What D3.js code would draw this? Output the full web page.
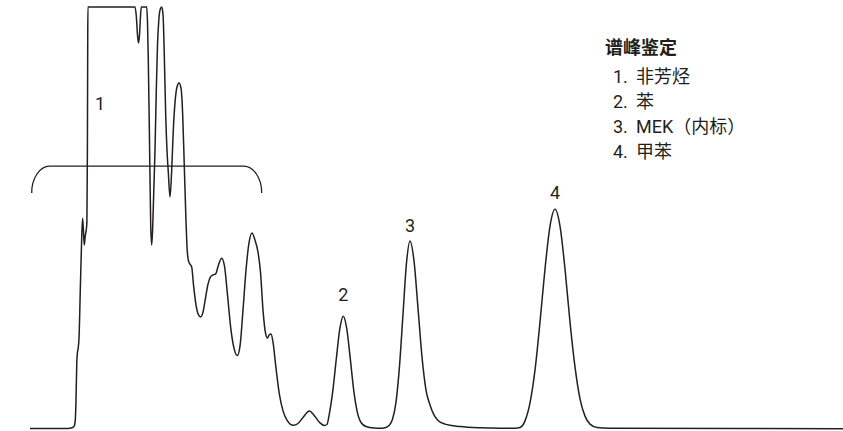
<!DOCTYPE html>
<html><head><meta charset="utf-8">
<script src="https://cdn.jsdelivr.net/npm/d3@7"></script>
<style>html,body{margin:0;padding:0;background:#fff;} svg{display:block}</style>
</head><body>
<svg id="chart" width="843" height="431"></svg>
<script>
// Retention time (min) and detector signal (% of full scale)
const retentionTime = [
  0, 0.4, 0.76, 0.84, 0.88, 0.906, 0.92, 0.936, 0.95, 0.964, 0.98, 1.006, 1.034, 1.052, 1.068, 1.086, 1.104, 1.122, 1.138, 1.148, 1.154, 1.158,
  2.1, 2.126, 2.15, 2.17, 2.19, 2.21, 2.226, 2.334, 2.35, 2.366, 2.39, 2.414, 2.434, 2.452, 2.476, 2.5, 2.526, 2.55, 2.576, 2.606, 2.634,
  2.66, 2.686, 2.714, 2.74, 2.766, 2.8, 2.832, 2.866, 2.904, 2.94, 2.98, 3.02, 3.054, 3.086, 3.116, 3.144, 3.17, 3.2, 3.234, 3.27, 3.32,
  3.37, 3.414, 3.46, 3.51, 3.56, 3.61, 3.66, 3.71, 3.77, 3.834, 3.89, 3.95, 4.02, 4.09, 4.146, 4.2, 4.26, 4.32, 4.38, 4.44, 4.5, 4.56,
  4.61, 4.66, 4.71, 4.75, 4.784, 4.82, 4.86, 4.92, 4.99, 5.06, 5.14, 5.266, 5.36, 5.46, 5.586, 5.7, 5.8, 5.89, 5.94, 5.986, 6.056, 6.126,
  6.196, 6.266, 6.336, 6.406, 6.476, 6.546, 6.62, 6.72, 6.88, 7.0, 7.1, 7.18, 7.25, 7.32, 7.39, 7.46, 7.53, 7.6, 7.68, 7.76, 7.84, 7.92,
  8.0, 8.08, 8.16, 8.3, 8.6, 9.0, 9.4, 9.7, 9.8, 9.9, 10.0, 10.1, 10.2, 10.3, 10.4, 10.5, 10.6, 10.7, 10.8, 10.9, 11.0, 11.1, 11.2, 11.34,
  11.6, 16.26
];
const detectorSignal = [
  0, 0, 0, 0.18, 0.5, 2.1, 7.1, 16.6, 19.1, 20.1, 22.6, 34.6, 47.6, 52.6, 49.6, 45.9, 48.1, 49.4, 51.6, 69.6, 94.6, 105.4,
  105.4, 103.1, 98.4, 96.4, 98.4, 103.1, 105.4, 105.4, 101.6, 92.1, 72.1, 50.9, 45.9, 49.6, 59.6, 69.6, 84.6, 95.9, 102.1, 104.9, 105.4,
  103.6, 93.4, 78.4, 69.6, 64.1, 57.9, 64.1, 74.6, 82.1, 85.4, 86.4, 85.1, 78.4, 65.6, 53.4, 44.6, 41.9, 41.1, 40.4, 35.9, 30.9,
  28.4, 27.9, 29.1, 32.6, 36.1, 37.9, 38.4, 38.6, 40.9, 42.6, 40.6, 33.4, 24.6, 19.6, 18.25, 20.6, 29.6, 39.6, 46.4, 48.9, 47.1, 44.1,
  39.1, 29.6, 23.9, 22.6, 23.4, 23.6, 21.6, 15.1, 8.4, 4.4, 2.1, 0.8, 1.25, 2.75, 4.4, 3.0, 1.4, 0.75, 1.0, 3.6, 9.4, 17.4,
  24.9, 28.1, 24.9, 17.4, 9.4, 4.1, 1.5, 0.5, 0.1, 0.05, 0.2, 0.75, 2.3, 6.6, 15.6, 28.6, 41.4, 46.9, 41.9, 30.1, 17.9, 9.6,
  5.9, 3.4, 2.0, 1.1, 0.5, 0.18, 0.08, 0.08, 0.25, 1.9, 6.4, 14.6, 26.6, 39.9, 50.6, 54.8, 50.6, 39.9, 26.6, 15.4, 7.4, 3.1, 1.1, 0.25,
  0.05, -0.05
];

const peakLabels = ["1", "2", "3", "4"];
const peakLabelTime = [1.4, 6.266, 7.6, 10.5];
const peakLabelSignal = [79.6, 31.9, 49.1, 57.4];

const bracketTime = [0.034, 4.634];
const bracketSignal = [58.9, 65.6];

const legendTitle = "谱峰鉴定";
const legendNumbers = ["1.", "2.", "3.", "4."];
const legendNames = ["非芳烃", "苯", "MEK（内标）", "甲苯"];

const W = 843, H = 431;
const svg = d3.select("#chart");
svg.append("rect").attr("width", W).attr("height", H).attr("fill", "#fff");

const x = d3.scaleLinear().domain([0, 16.26]).range([30, 843]);
const y = d3.scaleLinear().domain([0, 105.4]).range([428.5, 7]);

const ink = "#231f20";
const font = "Roboto, 'Noto Sans CJK SC', sans-serif";

const pts = retentionTime.map((t, i) => [t, detectorSignal[i]]);
const line = d3.line().x(d => x(d[0])).y(d => y(d[1])).curve(d3.curveMonotoneX);

svg.append("path")
  .datum(pts)
  .attr("d", line)
  .attr("fill", "none")
  .attr("stroke", ink)
  .attr("stroke-width", 1.5)
  .attr("stroke-linejoin", "round");

// bracket over the non-aromatic group
const bx0 = x(bracketTime[0]), bx1 = x(bracketTime[1]);
const byb = y(bracketSignal[0]), byt = y(bracketSignal[1]);
const rx = 18, ry = byb - byt;
svg.append("path")
  .attr("d", `M${bx0},${byb} A${rx},${ry} 0 0 1 ${bx0 + rx},${byt} L${bx1 - rx},${byt} A${rx},${ry} 0 0 1 ${bx1},${byb}`)
  .attr("fill", "none")
  .attr("stroke", ink)
  .attr("stroke-width", 1.3);

// peak labels
svg.selectAll("text.peak")
  .data(peakLabels)
  .join("text")
  .attr("class", "peak")
  .attr("x", (d, i) => x(peakLabelTime[i]))
  .attr("y", (d, i) => y(peakLabelSignal[i]))
  .attr("text-anchor", "middle")
  .attr("font-family", font)
  .attr("font-size", 18)
  .attr("fill", ink)
  .text(d => d);

// legend
const lg = svg.append("g");
lg.append("text")
  .attr("x", 605).attr("y", 54)
  .attr("font-family", "'Noto Sans CJK SC', sans-serif")
  .attr("font-weight", "bold")
  .attr("font-size", 18)
  .attr("fill", ink)
  .text(legendTitle);

legendNumbers.forEach((n, i) => {
  lg.append("text")
    .attr("x", 613).attr("y", 83 + i * 25)
    .attr("font-family", font)
    .attr("font-size", 18)
    .attr("fill", ink)
    .text(n);
  lg.append("text")
    .attr("x", 636).attr("y", 83 + i * 25)
    .attr("font-family", font)
    .attr("font-size", 18)
    .attr("fill", ink)
    .text(legendNames[i]);
});
</script>
</body></html>
